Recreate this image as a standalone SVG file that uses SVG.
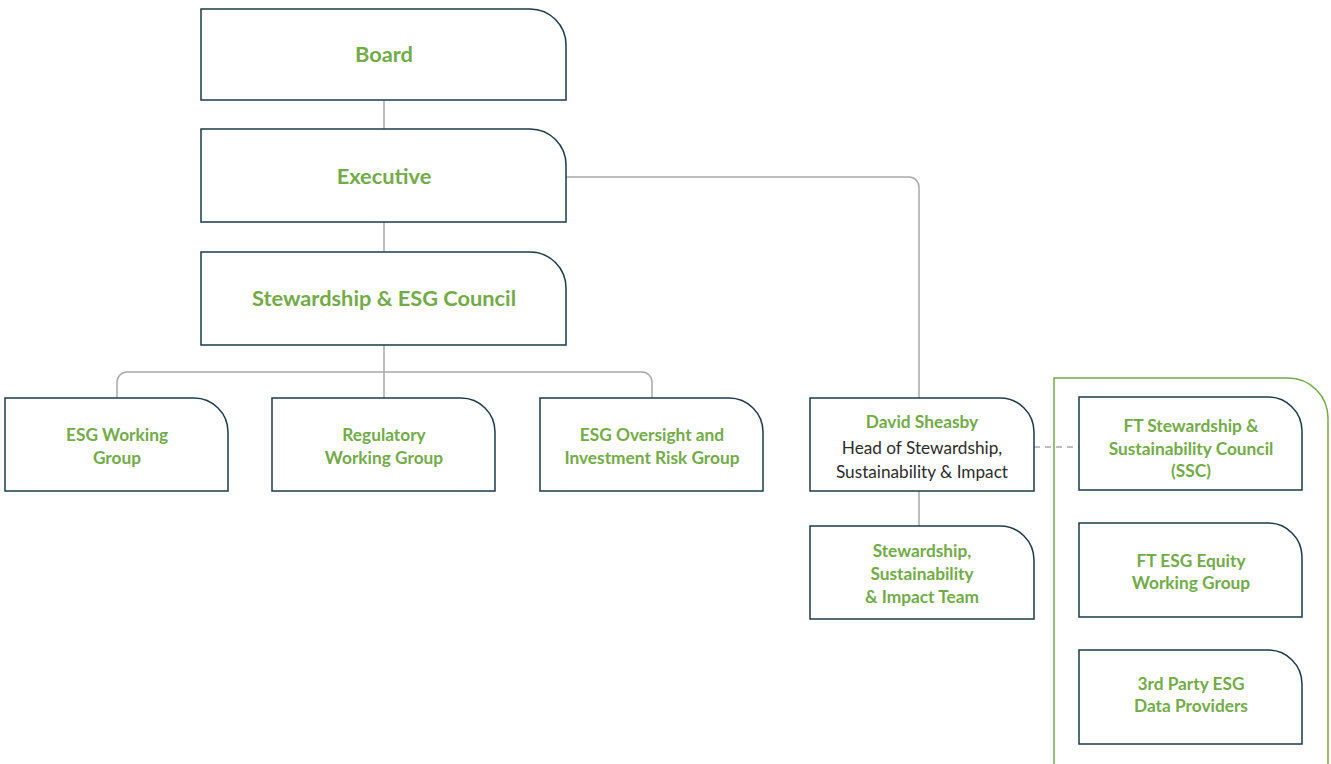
<svg xmlns="http://www.w3.org/2000/svg" width="1331" height="764" viewBox="0 0 1331 764">
<style>
.box{fill:#fff;stroke:#1d3a4b;stroke-width:1.5}
.con{fill:none;stroke:#a9a9a9;stroke-width:1.5}
.t{font-family:Lato,"Liberation Sans",sans-serif;font-weight:700;fill:#72ab48;text-anchor:middle}
.big{font-size:21.8px}
.sm{font-size:17.3px}
.dark{font-family:Lato,"Liberation Sans",sans-serif;font-weight:400;fill:#2b2b2b;font-size:17.2px;text-anchor:middle}
</style>
<rect width="1331" height="764" fill="#fff"/>
<g id="container">
<path d="M1054,764 V378 H1288 A40,40 0 0 1 1328,418 V764" fill="none" stroke="#72ab48" stroke-width="1.5"/>
</g>
<g id="connectors">
<path class="con" d="M384,100 V129"/>
<path class="con" d="M384,222 V252"/>
<path class="con" d="M384,345 V398"/>
<path class="con" d="M117,398 V382 A10,10 0 0 1 127,372 H642 A10,10 0 0 1 652,382 V398"/>
<path class="con" d="M566,177 H909 A10,10 0 0 1 919,187 V398"/>
<path class="con" d="M919,491 V526"/>
<path class="con" d="M1034,447 H1079" stroke-dasharray="6,5"/>
</g>
<g id="board">
<path class="box" d="M201,9 H530 A36,36 0 0 1 566,45 V100 H201 Z"/>
<text class="t big" x="384" y="62">Board</text>
</g>
<g id="executive">
<path class="box" d="M201,129 H530 A36,36 0 0 1 566,165 V222 H201 Z"/>
<text class="t big" x="384" y="184">Executive</text>
</g>
<g id="council">
<path class="box" d="M201,252 H530 A36,36 0 0 1 566,288 V345 H201 Z"/>
<text class="t big" x="384" y="306">Stewardship &amp; ESG Council</text>
</g>
<g id="esg-working-group">
<path class="box" d="M5,398 H194 A34,34 0 0 1 228,432 V491 H5 Z"/>
<text class="t sm" x="117" y="441">ESG Working</text>
<text class="t sm" x="117" y="464">Group</text>
</g>
<g id="regulatory-working-group">
<path class="box" d="M272,398 H461 A34,34 0 0 1 495,432 V491 H272 Z"/>
<text class="t sm" x="384" y="441">Regulatory</text>
<text class="t sm" x="384" y="464">Working Group</text>
</g>
<g id="esg-oversight">
<path class="box" d="M540,398 H729 A34,34 0 0 1 763,432 V491 H540 Z"/>
<text class="t sm" x="652" y="441">ESG Oversight and</text>
<text class="t sm" x="652" y="464">Investment Risk Group</text>
</g>
<g id="david-sheasby">
<path class="box" d="M810,398 H1000 A34,34 0 0 1 1034,432 V491 H810 Z"/>
<text class="t sm" x="922" y="428">David Sheasby</text>
<text class="dark" x="922" y="454">Head of Stewardship,</text>
<text class="dark" x="922" y="478">Sustainability &amp; Impact</text>
</g>
<g id="ssi-team">
<path class="box" d="M810,526 H1000 A34,34 0 0 1 1034,560 V619 H810 Z"/>
<text class="t sm" x="922" y="557">Stewardship,</text>
<text class="t sm" x="922" y="580">Sustainability</text>
<text class="t sm" x="922" y="603">&amp; Impact Team</text>
</g>
<g id="ft-ssc">
<path class="box" d="M1079,397 H1268 A34,34 0 0 1 1302,431 V490 H1079 Z"/>
<text class="t sm" x="1191" y="432">FT Stewardship &amp;</text>
<text class="t sm" x="1191" y="455">Sustainability Council</text>
<text class="t sm" x="1191" y="477">(SSC)</text>
</g>
<g id="ft-esg-equity">
<path class="box" d="M1079,523 H1268 A34,34 0 0 1 1302,557 V617 H1079 Z"/>
<text class="t sm" x="1191" y="567">FT ESG Equity</text>
<text class="t sm" x="1191" y="589">Working Group</text>
</g>
<g id="third-party">
<path class="box" d="M1079,650 H1268 A34,34 0 0 1 1302,684 V744 H1079 Z"/>
<text class="t sm" x="1191" y="690">3rd Party ESG</text>
<text class="t sm" x="1191" y="712">Data Providers</text>
</g>
</svg>
